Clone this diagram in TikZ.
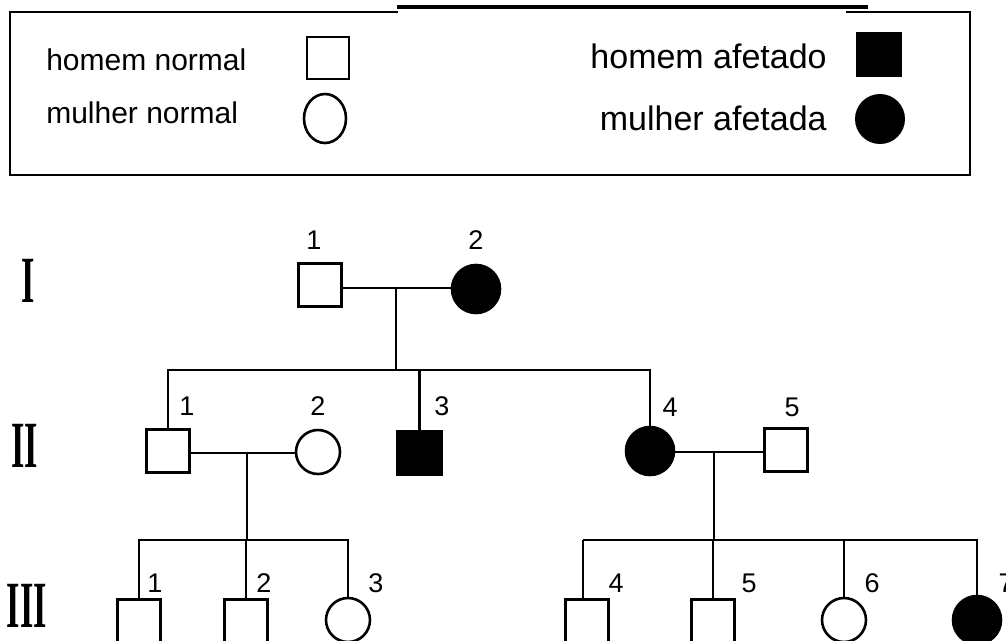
\documentclass[tikz,border=0pt]{standalone}
\usepackage{fontspec}
\usetikzlibrary{shapes.geometric}
\setmainfont{Liberation Sans}
\newfontfamily\romanfont{Liberation Serif}
\begin{document}
\begin{tikzpicture}[x=1pt,y=-1pt,line width=2.6pt,
  male/.style={draw,rectangle,minimum size=43pt,inner sep=0pt,fill=white},
  female/.style={draw,circle,minimum size=44pt,inner sep=0pt,fill=white},
  amale/.style={draw,rectangle,minimum size=43pt,inner sep=0pt,fill=black},
  afemale/.style={draw,circle,minimum size=48pt,inner sep=0pt,fill=black},
  num/.style={inner sep=0pt,font=\fontsize{27}{27}\selectfont},
  gen/.style={inner sep=0pt,font=\romanfont\bfseries\fontsize{66}{66}\selectfont,xscale=0.52},
  legl/.style={inner sep=0pt,anchor=base west,font=\fontsize{30}{30}\selectfont},
  legr/.style={inner sep=0pt,anchor=base east,font=\fontsize{34}{34}\selectfont}]
\useasboundingbox (0,0) rectangle (1006,640);
% legend frame
\coordinate (bA) at (397,12);
\coordinate (bB) at (10,12);
\coordinate (bC) at (10,175);
\coordinate (bD) at (970,175);
\coordinate (bE) at (970,12);
\coordinate (bF) at (847,12);
\coordinate (tA) at (397,7);
\coordinate (tB) at (868,7);
\draw[line cap=rect] (bA) -- (bB) -- (bC) -- (bD) -- (bE) -- (bF);
\draw[line width=4pt] (tA) -- (tB);
% legend items
\node[legl] (t1) at (45,70) {homem normal};
\node[legl] (t2) at (45,123) {mulher normal};
\node[legr] (t3) at (828,68) {homem afetado};
\node[legr] (t4) at (828,130) {mulher afetada};
\node[male,minimum size=42pt] (lm) at (328,58) {};
\node[draw,ellipse,minimum width=42pt,minimum height=49pt,inner sep=0pt] (lf) at (325,118.5) {};
\node[amale,minimum width=46pt,minimum height=45pt,draw=none] (lam) at (879,54.5) {};
\node[afemale,minimum size=50pt,draw=none] (laf) at (880,119) {};
% generation labels
\node[gen] (g1) at (28,281) {I};
\node[gen] (g2) at (25,446) {II};
\node[gen] (g3) at (27,606) {III};
% generation I
\node[male] (I1) at (320,285) {};
\node[afemale] (I2) at (476,289) {};
\node[num] (n11) at (314,240) {1};
\node[num] (n12) at (476,240) {2};
\coordinate (m1) at (396,288);
\coordinate (s1) at (396,370);
\coordinate (sL) at (167,370);
\draw (I1.east |- m1) -- (I2.west |- m1);
\draw (m1) -- (s1);
% generation II
\node[male] (II1) at (168,451) {};
\node[female] (II2) at (318,452) {};
\node[amale,minimum size=44pt] (II3) at (419.5,453) {};
\node[afemale] (II4) at (650,451) {};
\node[male] (II5) at (786,450) {};
\node[num] (n21) at (187,406) {1};
\node[num] (n22) at (318,406) {2};
\node[num] (n23) at (442,406) {3};
\node[num] (n24) at (670,407) {4};
\node[num] (n25) at (792,407) {5};
\draw (II1.north) -- (II1.north |- sL) -- (II4.north |- sL) -- (II4.north);
\draw (II3.north |- sL) -- (II3.north);
\coordinate (m2) at (247,453);
\coordinate (m3) at (714,452);
\coordinate (s2) at (247,540);
\coordinate (s3) at (714,540);
\draw (II1.east |- m2) -- (II2.west |- m2);
\draw (m2) -- (s2);
\draw (II4.east |- m3) -- (II5.west |- m3);
\draw (m3) -- (s3);
% generation III
\node[male] (III1) at (139,621) {};
\node[male] (III2) at (246,621) {};
\node[female] (III3) at (348,620) {};
\node[male] (III4) at (587,621) {};
\node[male] (III5) at (713,621) {};
\node[female] (III6) at (844,620) {};
\node[afemale] (III7) at (977,620) {};
\node[num] (n31) at (155,583) {1};
\node[num] (n32) at (264,583) {2};
\node[num] (n33) at (376,583) {3};
\node[num] (n34) at (616,583) {4};
\node[num] (n35) at (749,583) {5};
\node[num] (n36) at (872,583) {6};
\node[num] (n37) at (1006,583) {7};
\draw (III1.north) -- (III1.north |- s2) -- (III3.north |- s2) -- (III3.north);
\draw (III2.north |- s2) -- (III2.north);
\coordinate (d4) at (583,540);
\draw (d4) -- (d4 |- III4.north) ;
\draw (d4) -- (III7.north |- s3) -- (III7.north);
\draw (III5.north |- s3) -- (III5.north);
\draw (III6.north |- s3) -- (III6.north);
\end{tikzpicture}
\end{document}
